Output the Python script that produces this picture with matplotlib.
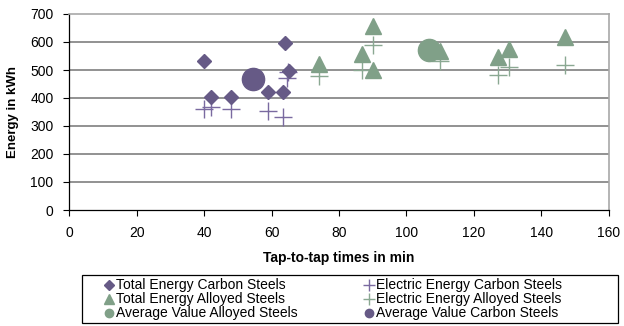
import matplotlib
matplotlib.use("Agg")
import matplotlib.pyplot as plt
from matplotlib.lines import Line2D
from matplotlib.patches import Rectangle

plt.rcParams['font.family'] = ['Liberation Sans', 'DejaVu Sans']

# Data
tc_x = [40, 42, 48, 59, 63.5, 64, 65.3]
tc_y = [531, 402, 402, 422, 422, 595, 497]
ec_x = [40, 42, 48, 59, 63.3, 64.5, 64.8]
ec_y = [362, 368, 362, 353, 332, 470, 492]
ta_x = [74, 87, 90, 90, 110, 127.3, 130.4, 147.2]
ta_y = [520, 556, 657, 500, 568, 548, 576, 619]
ea_x = [74, 87, 90, 110, 127.3, 130.4, 147.2]
ea_y = [478, 500, 591, 533, 481, 511, 517]
avg_a_x = [106.8]
avg_a_y = [573]
avg_c_x = [54.6]
avg_c_y = [469]

purple = '#665a86'
purple_l = '#7a6aa0'
green = '#80a088'
green_l = '#8aa892'

W, H = 624, 326
fig = plt.figure(figsize=(W/100, H/100), dpi=100)
ax = fig.add_axes([69.3/W, 1-210/H, (608.5-69.3)/W, (210-14)/H])

ax.set_xlim(0, 160)
ax.set_ylim(0, 700)
ax.set_xticks(range(0, 161, 20))
ax.set_yticks(range(0, 701, 100))
for y in range(100, 700, 100):
    ax.axhline(y, color='#747474', lw=1.1, zorder=0)

ax.plot(ec_x, ec_y, ls='none', marker='+', ms=13, mew=1.0, color=purple_l, zorder=3)
ax.plot(ea_x, ea_y, ls='none', marker='+', ms=13, mew=1.0, color=green_l, zorder=3)
ax.plot(tc_x, tc_y, ls='none', marker='D', ms=7.2, color=purple, mec=purple, zorder=4)
ax.plot(ta_x, ta_y, ls='none', marker='^', ms=11, color=green, mec=green, zorder=4)
ax.plot(avg_a_x, avg_a_y, ls='none', marker='o', ms=16, color=green, mec=green, zorder=5)
ax.plot(avg_c_x, avg_c_y, ls='none', marker='o', ms=16, color=purple, mec=purple, zorder=5)

for s in ['top', 'right']:
    ax.spines[s].set_color('#a8a8a8')
    ax.spines[s].set_linewidth(1.2)
for s in ['left', 'bottom']:
    ax.spines[s].set_color('black')
    ax.spines[s].set_linewidth(0.9)
ax.tick_params(direction='out', length=4.3, width=0.8, labelsize=10, colors='black')
ax.tick_params(axis='x', pad=7.5)
ax.tick_params(axis='y', pad=7)

ax.set_xlabel('Tap-to-tap times in min', fontsize=10, fontweight='bold')
ax.xaxis.set_label_coords(0.5, (210-258)/196)
ax.xaxis.label.set_va('center')
ax.set_ylabel('Energy in kWh', fontsize=9.5, fontweight='bold')
ax.yaxis.set_label_coords((13.5-69.3)/539.2, 0.5)
ax.yaxis.label.set_va('center')

# legend frame
fig.add_artist(Rectangle((82/W, 1-323/H), (618-82)/W, (323-275)/H, transform=fig.transFigure,
                         fill=True, facecolor='white', edgecolor='black', lw=0.9, zorder=1))

col1_h = [
    Line2D([], [], ls='none', marker='D', ms=5, color=purple),
    Line2D([], [], ls='none', marker='^', ms=6.5, color=green),
    Line2D([], [], ls='none', marker='o', ms=6, color=green),
]
col1_l = ['Total Energy Carbon Steels', 'Total Energy Alloyed Steels', 'Average Value Alloyed Steels']
col2_h = [
    Line2D([], [], ls='none', marker='+', ms=8, mew=1, color=purple_l),
    Line2D([], [], ls='none', marker='+', ms=8, mew=1, color=green_l),
    Line2D([], [], ls='none', marker='o', ms=6, color=purple),
]
col2_l = ['Electric Energy Carbon Steels', 'Electric Energy Alloyed Steels', 'Average Value Carbon Steels']

common = dict(loc='center left', fontsize=10, frameon=False, handlelength=0.6,
              handletextpad=0.2, labelspacing=0.0, borderpad=0, borderaxespad=0)
leg1 = fig.legend(col1_h, col1_l, bbox_to_anchor=(105/W, 1-299.5/H), **common)
leg1.set_zorder(2)
leg2 = fig.legend(col2_h, col2_l, bbox_to_anchor=(365/W, 1-299.5/H), **common)
leg2.set_zorder(2)

fig.savefig('out.png', dpi=100)
